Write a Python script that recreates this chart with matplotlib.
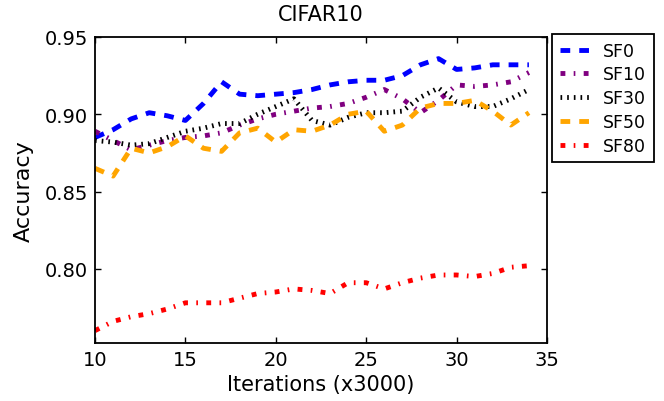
import matplotlib
matplotlib.use("Agg")
import matplotlib.pyplot as plt

iterations = list(range(10, 35))
sf0 = [0.885, 0.890, 0.897, 0.901, 0.899, 0.896, 0.907, 0.921, 0.913, 0.912, 0.913, 0.914, 0.916,
       0.919, 0.921, 0.922, 0.922, 0.925, 0.932, 0.936, 0.929, 0.930, 0.932, 0.932, 0.932]
sf10 = [0.889, 0.883, 0.877, 0.880, 0.883, 0.885, 0.886, 0.888, 0.893, 0.897, 0.900, 0.902, 0.904,
        0.905, 0.907, 0.911, 0.916, 0.910, 0.901, 0.909, 0.919, 0.918, 0.919, 0.921, 0.927]
sf30 = [0.883, 0.882, 0.880, 0.881, 0.885, 0.889, 0.891, 0.894, 0.894, 0.900, 0.905, 0.910, 0.896,
        0.893, 0.898, 0.901, 0.901, 0.902, 0.911, 0.917, 0.908, 0.905, 0.905, 0.910, 0.916]
sf50 = [0.865, 0.860, 0.878, 0.875, 0.879, 0.886, 0.878, 0.876, 0.888, 0.891, 0.882, 0.890, 0.889,
        0.893, 0.900, 0.902, 0.889, 0.893, 0.904, 0.907, 0.907, 0.909, 0.902, 0.893, 0.901]
sf80 = [0.760, 0.766, 0.769, 0.771, 0.774, 0.778, 0.778, 0.778, 0.781, 0.784, 0.785, 0.787, 0.786,
        0.784, 0.791, 0.791, 0.787, 0.791, 0.794, 0.796, 0.796, 0.795, 0.797, 0.801, 0.802]
labels = ["SF0", "SF10", "SF30", "SF50", "SF80"]
xticks = [10, 15, 20, 25, 30, 35]
yticks = [0.80, 0.85, 0.90, 0.95]

plt.rcParams['font.family'] = ['DejaVu Sans']
plt.rcParams['lines.scale_dashes'] = False

fig = plt.figure(figsize=(6.64, 4.02), dpi=100)
ax = fig.add_axes([0.1431, 0.1443, 0.8238 - 0.1431, 0.9055 - 0.1443])

series = [sf0, sf10, sf30, sf50, sf80]
colors = ['#0000ff', '#800080', '#000000', '#ffa500', '#ff0000']
dashes = [(7, 6.5), (3.5, 6, 1.2, 6), (1.2, 3.6), (7, 6.5), (3.5, 6, 1.2, 6)]
for ys, lab, c, d in zip(series, labels, colors, dashes):
    ax.plot(iterations, ys, color=c, lw=3.5, dashes=d, label=lab,
            solid_joinstyle='round', dash_joinstyle='round')

ax.set_xlim(10, 35)
ax.set_ylim(0.752, 0.95)
ax.set_xticks(xticks)
ax.set_yticks(yticks)
ax.set_yticklabels([f"{v:.2f}" for v in yticks])
ax.tick_params(direction='in', top=True, right=True, length=4, width=1, labelsize=14, pad=5)
for s in ax.spines.values():
    s.set_linewidth(1.3)

ax.set_title("CIFAR10", fontsize=15, pad=12)
ax.set_xlabel("Iterations (x3000)", fontsize=15, labelpad=4)
ax.set_ylabel("Accuracy", fontsize=16, labelpad=8)

leg = ax.legend(loc='upper left', bbox_to_anchor=(1.011, 1.01), borderaxespad=0,
                fontsize=12.5, handlelength=1.7, labelspacing=0.33, fancybox=False,
                framealpha=1, edgecolor='black', borderpad=0.45)
leg.get_frame().set_linewidth(1.3)

fig.savefig("out.png", dpi=100)
